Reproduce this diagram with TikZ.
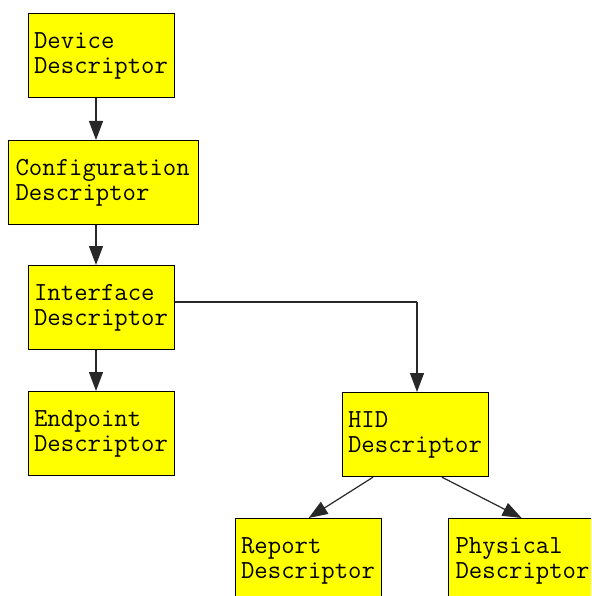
\documentclass[tikz,border=0pt]{standalone}
\usepackage{fontspec}
\usetikzlibrary{arrows.meta,calc}
\definecolor{boxfill}{RGB}{255,255,0}
\definecolor{wire}{RGB}{40,40,40}
\begin{document}
\begin{tikzpicture}[x=1pt,y=-1pt,
  descbox/.style={draw=black, line width=1.2pt, fill=boxfill, rectangle,
    anchor=north west, minimum width=146pt, minimum height=84pt,
    inner xsep=5.5pt, inner ysep=0pt, text width=135pt, align=left,
    font=\ttfamily\fontsize{26pt}{25pt}\selectfont},
  link/.style={draw=wire, line width=1.2pt,
    -{Triangle[length=19pt,width=14pt]}},
  plain/.style={draw=wire, line width=1.2pt}]
\useasboundingbox (0,0) rectangle (591,596);
\clip (0,0) rectangle (591,596);
\fill[white] (0,0) rectangle (591,596);

% descriptor boxes
\node[descbox] (dev) at (28,13) {Device\\Descriptor};
\node[descbox, minimum width=190pt, text width=176pt, inner xsep=7pt] (cfg) at (8,140) {Configuration\\Descriptor};
\node[descbox] (ifc) at (28,265) {Interface\\Descriptor};
\node[descbox] (ept) at (28,391) {Endpoint\\Descriptor};
\node[descbox] (hid) at (342,392) {HID\\Descriptor};
\node[descbox] (rep) at (235,518) {Report\\Descriptor};
\node[descbox, inner xsep=7pt, text width=132pt] (phy) at (448,518) {Physical\\Descriptor};

% connectors
\coordinate (dx) at (96,0);
\draw[link] (dev.south -| dx) -- (cfg.north -| dx);
\draw[link] (cfg.south -| dx) -- (ifc.north -| dx);
\draw[link] (ifc.south -| dx) -- (ept.north -| dx);

\coordinate (bend) at (417,302);
\draw[plain] (ifc.east |- bend) -- (bend);
\draw[link] (bend) -- (hid.north -| bend);

\draw[link] ($(hid.south west)+(31,0)$) -- (rep.north);
\draw[link] ($(hid.south west)+(100,0)$) -- (phy.north);
\end{tikzpicture}
\end{document}
